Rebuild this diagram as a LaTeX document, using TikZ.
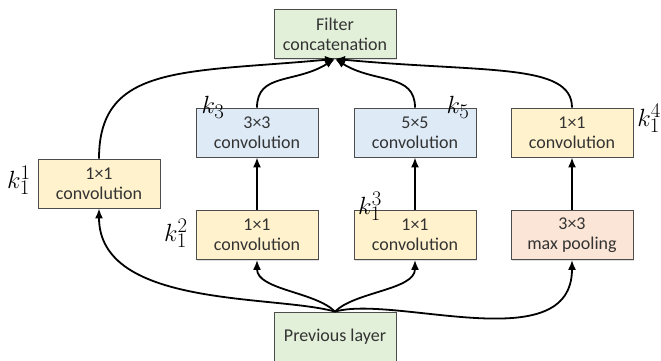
\documentclass[tikz,border=0pt]{standalone}
\usepackage{fontspec}
\setmainfont{Carlito}
\usetikzlibrary{arrows.meta,shadows}

\tikzset{
  blk/.style={draw=black!70, line width=0.8pt, minimum width=122pt, minimum height=49pt,
    inner sep=0pt, align=center, text=black!80, font=\fontsize{18}{20}\selectfont,
    drop shadow={shadow xshift=1.2pt, shadow yshift=-1.2pt, opacity=0.25}},
  yel/.style={blk, fill={rgb,255:red,255;green,242;blue,204}},
  blu/.style={blk, fill={rgb,255:red,222;green,235;blue,247}},
  grn/.style={blk, fill={rgb,255:red,226;green,240;blue,217}},
  pnk/.style={blk, fill={rgb,255:red,251;green,229;blue,214}},
  klab/.style={font=\fontsize{29}{31}\selectfont, inner sep=0pt}
}

\begin{document}
\begin{tikzpicture}[x=1pt, y=1pt, line width=1.8pt, >={Latex[length=10pt,width=8pt]}]
    \useasboundingbox (0,0) rectangle (661,360);
    \coordinate (P) at (335,23.5);
    \coordinate (F) at (335,326);
    \coordinate (L) at (99,176.5);
    \coordinate (A1) at (257,227.5);
    \coordinate (B1) at (415,227.5);
    \coordinate (C1) at (572,227.5);
    \coordinate (A2) at (257,125);
    \coordinate (B2) at (415,125);
    \coordinate (C2) at (572,125);

    % 方框
    \node[grn] (prev) at (P) {Previous layer};
    \node[grn] (concat) at (F) {Filter\\concatenation};
    \node[yel] (convl) at (L) {1×1\\convolution};
    \node[blu] (conv3) at (A1) {3×3\\convolution};
    \node[blu] (conv5) at (B1) {5×5\\convolution};
    \node[yel] (convr) at (C1) {1×1\\convolution};
    \node[yel] (redA) at (A2) {1×1\\convolution};
    \node[yel] (redB) at (B2) {1×1\\convolution};
    \node[pnk] (pool) at (C2) {3×3\\max pooling};

    % 由Previous layer分出的四条线
    \draw[->] (prev.north) .. controls +(-60,17) and +(0,-100) .. (convl.south);
    \draw[->] (prev.north) .. controls +(-20,20) and +(0,-30) .. (redA.south);
    \draw[->] (prev.north) .. controls +(20,20) and +(0,-30) .. (redB.south);
    \draw[->] (prev.north) .. controls +(60,17) and +(0,-100) .. (pool.south);

    % 中间的竖直箭头
    \draw[->] (redA) -- (conv3);
    \draw[->] (redB) -- (conv5);
    \draw[->] (pool) -- (convr);

    % 汇合到Filter concatenation
    \draw[->] (convl.north) .. controls +(0,95) and +(-150,-14) .. (concat.south);
    \draw[->] (conv3.north) .. controls +(0,35) and +(-40,-25) .. (concat.south);
    \draw[->] (conv5.north) .. controls +(0,35) and +(40,-25) .. (concat.south);
    \draw[->] (convr.north) .. controls +(0,45) and +(150,-14) .. (concat.south);

    % 卷积核标注
    \node[klab] (k11) at (19,180) {$k_1^1$};
    \node[klab] (k12) at (176,127) {$k_1^2$};
    \node[klab] (k13) at (370,154) {$k_1^3$};
    \node[klab] (k3) at (213,253) {$k_3$};
    \node[klab] (k5) at (458,253) {$k_5$};
    \node[klab] (k14) at (649,242) {$k_1^4$};
\end{tikzpicture}
\end{document}
